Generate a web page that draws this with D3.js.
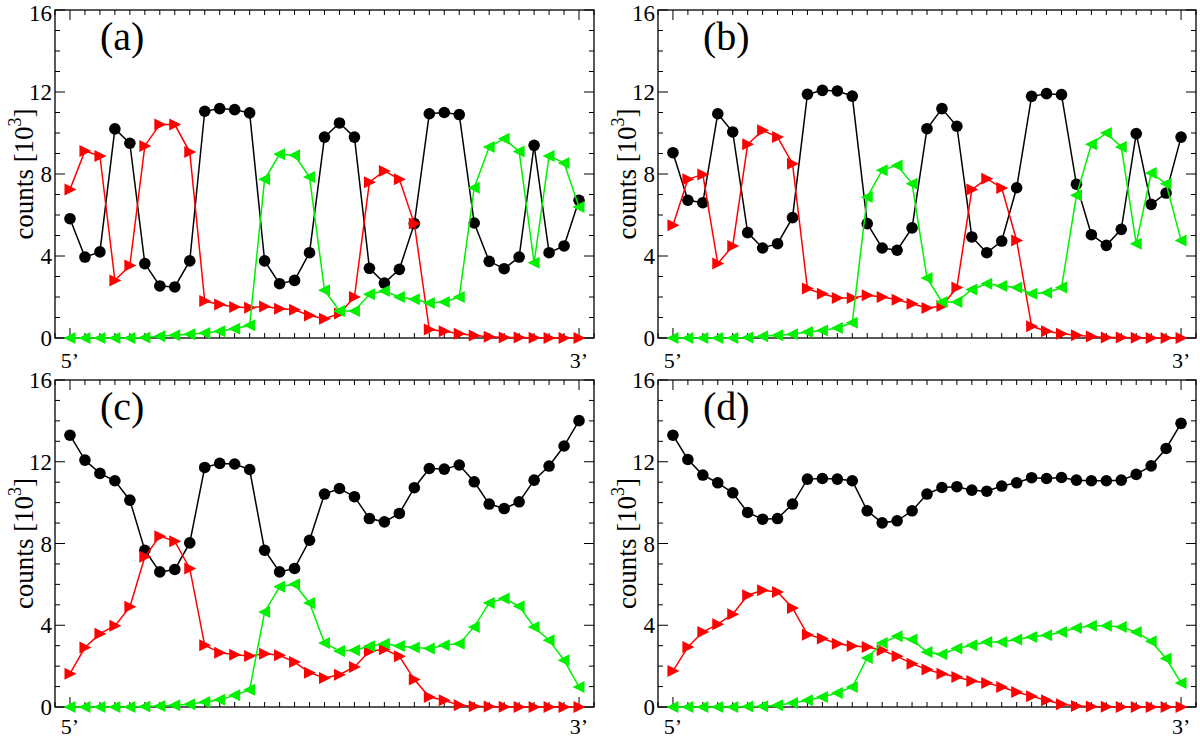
<!DOCTYPE html>
<html>
<head>
<meta charset="utf-8">
<script src="https://cdn.jsdelivr.net/npm/d3@7"></script>
<style>
  body { margin: 0; background: #fff; }
  svg text { font-family: "Liberation Serif", "Times New Roman", serif; fill: #000; }
</style>
</head>
<body>
<div class="container"></div>
<script>
const w = 1200
const h = 740

// positions along the strand, 5' end to 3' end
const xTickLabels = ["5\u2019", "3\u2019"]
const yTicks = [0, 4, 8, 12, 16]

// counts [10^3], one value per position (35 positions)
const aBlack = [5.82, 3.95, 4.2, 10.2, 9.5, 3.63, 2.54, 2.49, 3.76, 11.06, 11.19, 11.14, 10.98, 3.76, 2.65, 2.81, 4.16, 9.8, 10.49, 9.8, 3.4, 2.68, 3.35, 5.58, 10.94, 11.0, 10.9, 5.61, 3.74, 3.38, 3.95, 9.4, 4.16, 4.49, 6.72]
const aRed = [7.25, 9.12, 8.88, 2.81, 3.54, 9.37, 10.42, 10.41, 9.07, 1.8, 1.63, 1.51, 1.48, 1.54, 1.43, 1.38, 1.1, 0.94, 1.19, 2.0, 7.6, 8.15, 7.74, 5.58, 0.41, 0.33, 0.21, 0.12, 0.06, 0.03, 0.02, 0.01, 0, 0, 0]
const aGreen = [0, 0, 0, 0, 0, 0.03, 0.08, 0.13, 0.18, 0.24, 0.33, 0.45, 0.62, 7.74, 8.96, 8.91, 7.85, 2.33, 1.32, 1.32, 2.13, 2.29, 2.0, 1.89, 1.71, 1.76, 2.0, 7.33, 9.32, 9.72, 9.1, 3.67, 8.88, 8.54, 6.39]

const bBlack = [9.04, 6.72, 6.6, 10.94, 10.05, 5.14, 4.39, 4.6, 5.87, 11.89, 12.08, 12.05, 11.8, 5.58, 4.39, 4.28, 5.37, 10.21, 11.19, 10.33, 4.93, 4.16, 4.73, 7.33, 11.79, 11.92, 11.87, 7.5, 5.04, 4.52, 5.3, 9.97, 6.52, 7.07, 9.8]
const bRed = [5.5, 7.74, 7.98, 3.63, 4.49, 9.45, 10.13, 9.8, 8.5, 2.41, 2.16, 1.95, 1.95, 2.08, 2.0, 1.87, 1.67, 1.46, 1.56, 2.46, 7.24, 7.77, 7.32, 4.76, 0.57, 0.33, 0.21, 0.13, 0.07, 0.03, 0.02, 0.01, 0, 0, 0]
const bGreen = [0, 0, 0, 0, 0, 0.03, 0.08, 0.13, 0.18, 0.29, 0.37, 0.49, 0.75, 6.88, 8.18, 8.42, 7.53, 2.93, 1.76, 1.76, 2.37, 2.65, 2.54, 2.46, 2.16, 2.21, 2.46, 6.96, 9.45, 10.0, 9.32, 4.6, 8.05, 7.53, 4.76]

const cBlack = [13.3, 12.08, 11.43, 11.07, 10.12, 7.67, 6.61, 6.73, 8.03, 11.72, 11.92, 11.89, 11.62, 7.67, 6.61, 6.78, 8.16, 10.42, 10.69, 10.29, 9.22, 9.06, 9.47, 10.73, 11.67, 11.64, 11.84, 11.02, 9.93, 9.71, 10.04, 11.1, 11.79, 12.77, 14.01]
const cRed = [1.63, 2.91, 3.59, 3.97, 4.9, 7.35, 8.36, 8.11, 6.78, 3.02, 2.66, 2.56, 2.5, 2.61, 2.53, 2.2, 1.68, 1.42, 1.58, 1.96, 2.73, 2.82, 2.48, 1.34, 0.49, 0.33, 0.08, 0.04, 0.02, 0.01, 0, 0, 0, 0, 0]
const cGreen = [0, 0, 0, 0, 0, 0.02, 0.05, 0.08, 0.13, 0.24, 0.36, 0.57, 0.85, 4.65, 5.88, 6.01, 5.09, 3.13, 2.74, 2.78, 2.97, 3.1, 2.99, 2.91, 2.86, 3.02, 3.1, 3.92, 5.09, 5.31, 4.93, 3.92, 3.27, 2.29, 0.98]

const dBlack = [13.3, 12.11, 11.35, 10.97, 10.48, 9.52, 9.19, 9.22, 9.93, 11.15, 11.18, 11.15, 11.07, 9.6, 9.01, 9.11, 9.6, 10.42, 10.74, 10.78, 10.61, 10.56, 10.81, 10.97, 11.22, 11.18, 11.23, 11.1, 11.07, 11.07, 11.1, 11.38, 11.8, 12.65, 13.88]
const dRed = [1.76, 2.94, 3.67, 4.05, 4.54, 5.47, 5.71, 5.63, 4.85, 3.54, 3.35, 3.1, 2.99, 2.94, 2.78, 2.48, 2.12, 1.83, 1.63, 1.47, 1.27, 1.18, 0.98, 0.73, 0.52, 0.33, 0.13, 0.05, 0.02, 0.01, 0, 0, 0, 0, 0]
const dGreen = [0, 0, 0, 0, 0, 0.02, 0.04, 0.08, 0.2, 0.33, 0.49, 0.69, 0.98, 2.4, 3.13, 3.46, 3.3, 2.69, 2.58, 2.86, 3.02, 3.18, 3.18, 3.3, 3.43, 3.51, 3.67, 3.87, 3.97, 3.97, 3.92, 3.67, 3.22, 2.37, 1.18]

const panelLabels = ["(a)", "(b)", "(c)", "(d)"]
const panelData = [
  [aBlack, aRed, aGreen],
  [bBlack, bRed, bGreen],
  [cBlack, cRed, cGreen],
  [dBlack, dRed, dGreen]
]
const colors = ["#000000", "#ff0000", "#00f000"]

const boxes = [
  { x0: 55, x1: 594, y0: 10, y1: 338 },
  { x0: 658, x1: 1196, y0: 10, y1: 338 },
  { x0: 55, x1: 594, y0: 380, y1: 707 },
  { x0: 658, x1: 1196, y0: 380, y1: 707 }
]

const svg = d3.select(".container")
              .append("svg")
              .attr("width", w)
              .attr("height", h)

const rightTri = "M-5.5,-6L-5.5,6L6.5,0Z"
const leftTri = "M5.5,-6L5.5,6L-6.5,0Z"

boxes.forEach((b, p) => {
  const n = panelData[p][0].length
  const xScale = d3.scaleLinear().domain([-1, n]).range([b.x0, b.x1])
  const yScale = d3.scaleLinear().domain([0, 16]).range([b.y1, b.y0])
  const g = svg.append("g")

  // inward ticks on all sides (grace style)
  const idx = d3.range(-1, n + 1)
  const minorY = d3.range(0, 17)
  const tickLen = (major) => major ? 10 : 5
  const ticks = g.append("g").attr("stroke", "#000").attr("stroke-width", 1)
  idx.forEach(i => {
    const major = i === 0 || i === n - 1
    const x = xScale(i)
    ticks.append("line").attr("x1", x).attr("x2", x).attr("y1", b.y1).attr("y2", b.y1 - tickLen(major))
    ticks.append("line").attr("x1", x).attr("x2", x).attr("y1", b.y0).attr("y2", b.y0 + tickLen(major))
  })
  minorY.forEach(v => {
    const major = yTicks.includes(v)
    const y = yScale(v)
    ticks.append("line").attr("x1", b.x0).attr("x2", b.x0 + tickLen(major)).attr("y1", y).attr("y2", y)
    ticks.append("line").attr("x1", b.x1).attr("x2", b.x1 - tickLen(major)).attr("y1", y).attr("y2", y)
  })

  g.append("rect")
    .attr("x", b.x0).attr("y", b.y0)
    .attr("width", b.x1 - b.x0).attr("height", b.y1 - b.y0)
    .attr("fill", "none").attr("stroke", "#000").attr("stroke-width", 1.3)

  // y tick labels (the top one sits a little low, as in the figure)
  g.selectAll(".ylab")
    .data(yTicks)
    .enter()
    .append("text")
      .attr("x", b.x0 - 3)
      .attr("y", d => Math.max(yScale(d) + 8, 21))
      .attr("text-anchor", "end")
      .style("font-size", "23px")
      .text(d => d)

  // x tick labels
  g.selectAll(".xlab")
    .data([0, n - 1])
    .enter()
    .append("text")
      .attr("x", d => xScale(d))
      .attr("y", Math.min(b.y1 + 30, h - 6))
      .attr("text-anchor", "middle")
      .style("font-size", "22px")
      .text((d, i) => xTickLabels[i])

  // y axis label
  const yl = g.append("text")
    .attr("transform", `translate(${b.x0 - 22}, ${(b.y0 + b.y1) / 2}) rotate(-90)`)
    .attr("text-anchor", "middle")
    .style("font-size", "27px")
  yl.append("tspan").text("counts [10")
  yl.append("tspan").attr("dy", -12).style("font-size", "18px").text("3")
  yl.append("tspan").attr("dy", 12).text("]")

  // panel label
  g.append("text")
    .attr("x", b.x0 + 45)
    .attr("y", b.y0 + 40)
    .style("font-size", "40px")
    .text(panelLabels[p])

  // series
  const line = d3.line().x((d, i) => xScale(i)).y(d => yScale(d))
  const shapes = [null, rightTri, leftTri]
  panelData[p].forEach((series, s) => {
    g.append("path")
      .datum(series)
      .attr("d", line)
      .attr("fill", "none")
      .attr("stroke", colors[s])
      .attr("stroke-width", 1.5)
    if (s === 0) {
      g.selectAll(null)
        .data(series)
        .enter()
        .append("circle")
          .attr("cx", (d, i) => xScale(i))
          .attr("cy", d => yScale(d))
          .attr("r", 5.8)
          .attr("fill", colors[s])
    } else {
      g.selectAll(null)
        .data(series)
        .enter()
        .append("path")
          .attr("d", shapes[s])
          .attr("transform", (d, i) => `translate(${xScale(i)}, ${yScale(d)})`)
          .attr("fill", colors[s])
    }
  })
})
</script>
</body>
</html>
